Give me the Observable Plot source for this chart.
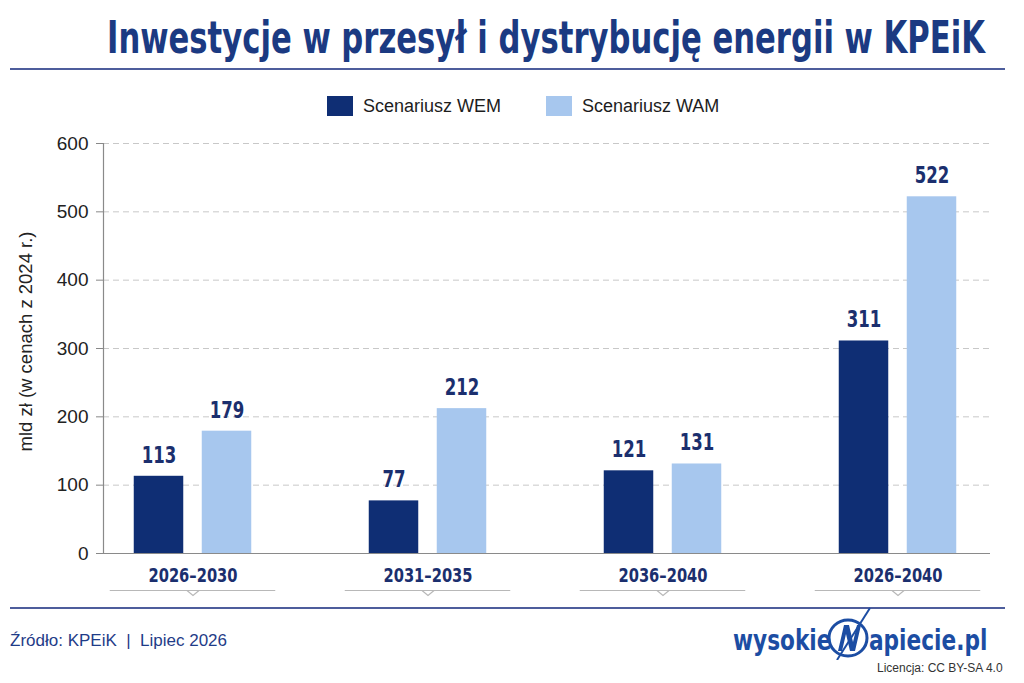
<!DOCTYPE html>
<html lang="pl">
<head>
<meta charset="utf-8">
<script src="https://cdn.jsdelivr.net/npm/d3@7"></script>
<script src="https://cdn.jsdelivr.net/npm/@observablehq/plot@0.6"></script>
<style>
  html, body { margin: 0; padding: 0; background: #fff; }
  #page { position: relative; width: 1024px; height: 683px; overflow: hidden; background: #fff;
          font-family: "Liberation Sans", Arial, sans-serif; }
  #title { position: absolute; left: 107px; top: 13px; white-space: nowrap; transform-origin: 0 0;
           font-family: "DejaVu Sans Condensed", "DejaVu Sans", sans-serif; font-stretch: condensed;
           font-weight: bold; font-size: 44px; line-height: 50px; color: #1b3a82; }
  .hr { position: absolute; left: 10px; width: 995px; height: 2px; background: #4d5d9c; }
  #legend { position: absolute; top: 96px; left: 0; height: 20px; }
  .sw { position: absolute; top: 0; width: 26px; height: 20px; }
  .lt { position: absolute; top: -2px; font-size: 18px; line-height: 24px; color: #1d1d1d; white-space: nowrap; }
  #chart { position: absolute; left: 0; top: 130px; }
  #source { position: absolute; left: 10px; top: 631px; font-size: 17px; color: #1f3c88; white-space: pre; }
  #logo { position: absolute; left: 724px; top: 606px; }
  #license { position: absolute; left: 877px; top: 661px; font-size: 12px; color: #333; white-space: nowrap; }
</style>
</head>
<body>
<div id="page">
  <div id="title">Inwestycje w przesył i dystrybucję energii w KPEiK</div>
  <div class="hr" style="top:68px"></div>
  <div id="legend"></div>
  <div id="chart"></div>
  <div class="hr" style="top:607px"></div>
  <div id="source">Źródło: KPEiK  |  Lipiec 2026</div>
  <svg id="logo" width="280" height="54" viewBox="0 0 280 54">
    <g font-family="'DejaVu Sans Condensed', 'DejaVu Sans', sans-serif" font-stretch="condensed"
       font-weight="bold" font-size="28" fill="#1c4da3">
      <g transform="translate(9,44) scale(0.86,1)"><text x="0" y="0">wysokie</text></g>
      <ellipse cx="124" cy="32" rx="19" ry="18" fill="none" stroke="#1c4da3" stroke-width="3"/>
      <path d="M114,45 L120,19 L125,19 L129,36 L133,19 L137,19 L131,45 L126,45 L122,28 L118,45 Z"/>
      <line x1="146" y1="2" x2="113" y2="54" stroke="#1c4da3" stroke-width="2"/>
      <g transform="translate(145,44) scale(0.86,1)"><text x="0" y="0">apiecie.pl</text></g>
    </g>
  </svg>
  <div id="license">Licencja: CC BY-SA 4.0</div>
</div>
<script>
// Investment totals, bn PLN (2024 prices), per period and scenario
const periods = ["2026–2030", "2031–2035", "2036–2040", "2026–2040"];
const wemValues = [113, 77, 121, 311];
const wamValues = [179, 212, 131, 522];
const seriesKeys = ["WEM", "WAM"];
const seriesLabels = ["Scenariusz WEM", "Scenariusz WAM"];
const seriesColors = ["#0f2e74", "#a7c7ee"];
const yTicks = [0, 100, 200, 300, 400, 500, 600];
const yLabel = "mld zł (w cenach z 2024 r.)";

const navy = "#1b2f6e";
const condensed = "'DejaVu Sans Condensed', 'DejaVu Sans', sans-serif";

const wemRows = periods.map((p, i) => ({period: p, series: "WEM", value: wemValues[i]}));
const wamRows = periods.map((p, i) => ({period: p, series: "WAM", value: wamValues[i]}));

// Legend
const legend = document.getElementById("legend");
const legendPos = [[327, 363], [546, 582]];
seriesKeys.forEach((k, i) => {
  const sw = document.createElement("div");
  sw.className = "sw"; sw.style.left = legendPos[i][0] + "px"; sw.style.background = seriesColors[i];
  const lt = document.createElement("div");
  lt.className = "lt"; lt.style.left = legendPos[i][1] + "px"; lt.textContent = seriesLabels[i];
  legend.append(sw, lt);
});

// Each period band is ~235px wide; the two bars (50px) sit either side of its centre with an 18px gap
const band = 235.5;
const barW = 50, gap = 18;
const nearInset = band / 2 + gap / 2;          // inset on the side facing the other bar
const farInset = band / 2 - gap / 2 - barW;    // inset on the outer side
const bracketInset = band / 2 - 83;            // bracket under each period label spans ±83px

// downward notch drawn at the middle of each bracket
const notch = {
  draw(ctx) {
    ctx.moveTo(-6, 0);
    ctx.lineTo(0, 5);
    ctx.lineTo(6, 0);
    ctx.closePath();
  }
};

const labelStyle = {fontWeight: "bold", fill: navy, fontFamily: condensed};

const chart = Plot.plot({
  width: 1024,
  height: 470,
  marginLeft: 103,
  marginRight: 34,
  marginTop: 13,
  marginBottom: 47,
  style: {fontFamily: "'Liberation Sans', Arial, sans-serif", background: "transparent"},
  x: {domain: periods, range: [74, 74 + band * periods.length], padding: 0, axis: null},
  y: {domain: [0, 600], axis: null},
  marks: [
    Plot.gridY(yTicks.filter(d => d > 0), {stroke: "#c8c8c8", strokeOpacity: 1, strokeDasharray: "6,4"}),
    Plot.axisY(yTicks, {tickSize: 7, tickPadding: 8, fontSize: 19, stroke: "#888", fill: "#222", label: null}),
    Plot.barY(wemRows, {x: "period", y: "value", fill: seriesColors[0],
                        insetLeft: farInset, insetRight: nearInset}),
    Plot.barY(wamRows, {x: "period", y: "value", fill: seriesColors[1],
                        insetLeft: nearInset, insetRight: farInset}),
    Plot.text(wemRows, {x: "period", y: "value", text: d => String(d.value), dx: -(gap / 2 + barW / 2),
                        dy: -21, fontSize: 23, ...labelStyle, className: "vlabel"}),
    Plot.text(wamRows, {x: "period", y: "value", text: d => String(d.value), dx: gap / 2 + barW / 2,
                        dy: -21, fontSize: 23, ...labelStyle, className: "vlabel"}),
    Plot.ruleY([0], {stroke: "#8a8a8a", strokeWidth: 1.2}),
    // period labels under the baseline, each with a small bracket
    Plot.text(periods, {x: d => d, y: () => 0, dy: 22, fontSize: 19, ...labelStyle, className: "plabel"}),
    Plot.tickY(periods, {x: d => d, y: () => 0, dy: 37, insetLeft: bracketInset, insetRight: bracketInset,
                         stroke: "#b8b8b8", strokeWidth: 1.2}),
    Plot.dot(periods, {x: d => d, y: () => 0, dy: 37, symbol: notch, r: 4,
                       fill: "white", stroke: "#b8b8b8", strokeWidth: 1.2}),
    Plot.text([yLabel], {frameAnchor: "left", dx: -77, dy: -7, rotate: -90, textAnchor: "middle",
                         fontSize: 18.5, fill: "#222"})
  ]
});

// vertical axis line along the left edge of the plotting area
const y = chart.scale("y");
d3.select(chart).append("line")
  .attr("x1", 103.5).attr("x2", 103.5)
  .attr("y1", y.apply(600)).attr("y2", y.apply(0))
  .attr("stroke", "#8a8a8a").attr("stroke-width", 1.2);

// narrow the bold condensed labels horizontally around their anchor
function squeeze(sel, k) {
  d3.select(chart).selectAll(sel).selectAll("text").each(function () {
    const t = this.getAttribute("transform") || "";
    this.setAttribute("transform", `${t} scale(${k},1)`);
  });
}
squeeze(".vlabel", 0.8);
squeeze(".plabel", 0.86);

document.getElementById("chart").append(chart);

// stretch the title to span its measured line width
const title = document.getElementById("title");
const tw = title.getBoundingClientRect().width;
title.style.transform = `scaleX(${878 / tw})`;
</script>
</body>
</html>
